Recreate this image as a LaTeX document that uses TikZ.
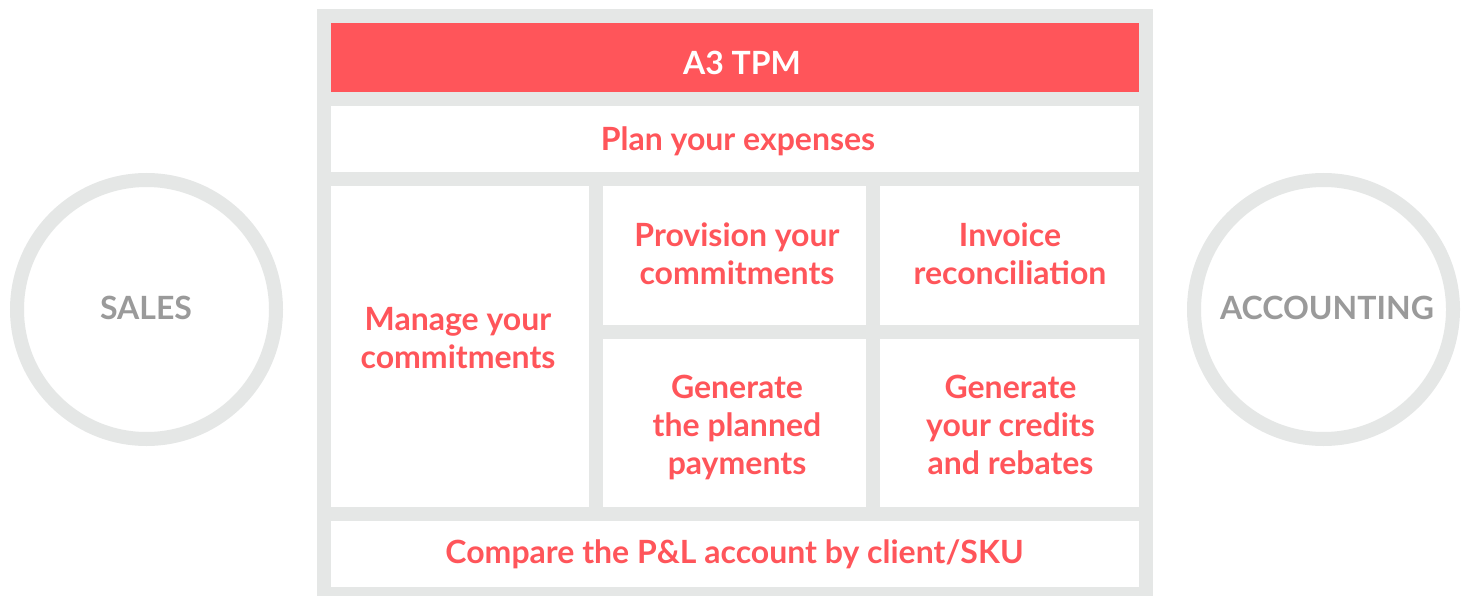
\documentclass[tikz,border=0pt]{standalone}
\usepackage{fontspec}
\setmainfont{Lato}
\definecolor{tpmred}{HTML}{FF555A}
\definecolor{framegray}{HTML}{E5E7E6}
\definecolor{labelgray}{HTML}{9A9A9A}
\begin{document}
\begin{tikzpicture}[x=1pt,y=-1pt,
  cellbox/.style={rectangle, fill=white, draw=none, inner sep=0pt, outer sep=0pt},
  headbox/.style={cellbox, fill=tpmred},
  celltext/.style={inner sep=0pt, align=center,
    font=\bfseries\fontsize{32}{38}\selectfont, text=tpmred},
  headtext/.style={celltext, text=white},
  ring/.style={circle, draw=framegray, line width=14pt, fill=white, inner sep=0pt,
    minimum size=259pt},
  ringtext/.style={inner sep=0pt, font=\bfseries\fontsize{32}{38}\selectfont, text=labelgray}]
\useasboundingbox (0,0) rectangle (1469,596);
\node[rectangle, fill=framegray, draw=none, inner sep=0pt, minimum width=836pt, minimum height=586.5pt] (frame) at (735,302.75) {};
% cells
\node[headbox, minimum width=808pt, minimum height=68.5pt] (head) at (735,57.75) {};
\node[cellbox, minimum width=808pt, minimum height=66pt] (plan) at (735,139) {};
\node[cellbox, minimum width=258pt, minimum height=321pt] (manage) at (460,346.5) {};
\node[cellbox, minimum width=263pt, minimum height=139pt] (provision) at (734.5,255.5) {};
\node[cellbox, minimum width=259pt, minimum height=139pt] (invoice) at (1009.5,255.5) {};
\node[cellbox, minimum width=263pt, minimum height=168pt] (genplanned) at (734.5,423) {};
\node[cellbox, minimum width=259pt, minimum height=168pt] (gencredits) at (1009.5,423) {};
\node[cellbox, minimum width=808pt, minimum height=66pt] (compare) at (735,554) {};
% texts
\node[headtext] (t-head) at (742,62.5) {A3 TPM};
\node[celltext] (t-plan) at (738,141) {Plan your expenses};
\node[celltext] (t-manage) at (458,338.5) {Manage your\\commitments};
\node[celltext] (t-provision) at (737,253.5) {Provision your\\commitments};
\node[celltext] (t-invoice) at (1010,253.5) {Invoice\\reconciliation};
\node[celltext] (t-genplanned) at (737,427.5) {Generate\\the planned\\payments};
\node[celltext] (t-gencredits) at (1010.5,424.5) {Generate\\your credits\\and rebates};
\node[celltext] (t-compare) at (734.5,554) {Compare the P\&L account by client/SKU};
% side circles
\node[ring] (sales) at (146.5,309.5) {};
\node[ring] (accounting) at (1323.5,309.5) {};
\node[ringtext] (t-sales) at (146,308) {SALES};
\node[ringtext] (t-accounting) at (1327,308) {ACCOUNTING};
\end{tikzpicture}
\end{document}
